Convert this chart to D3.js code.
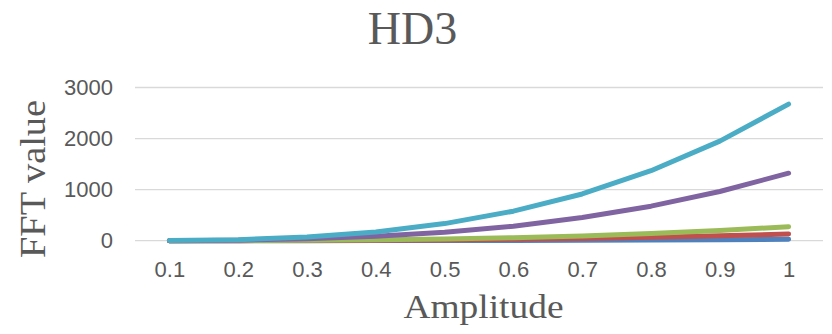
<!DOCTYPE html>
<html>
<head>
<meta charset="utf-8">
<script src="https://cdn.jsdelivr.net/npm/d3@7"></script>
<style>
  body { margin: 0; background: #fff; }
</style>
</head>
<body>
<div id="chart"></div>
<script>
const amplitudes = ["0.1", "0.2", "0.3", "0.4", "0.5", "0.6", "0.7", "0.8", "0.9", "1"];
const yTicks = [0, 1000, 2000, 3000];

// series values
const seriesBlue = [0, 0.2, 0.7, 1.7, 3.4, 6, 9, 14, 20, 27];
const seriesRed = [0.1, 1, 3.5, 8.4, 16, 28, 45, 67, 96, 131];
const seriesGreen = [0.3, 2.2, 7.4, 17.6, 34, 59, 94, 141, 200, 275];
const seriesPurple = [1.3, 11, 36, 85, 165, 285, 453, 676, 963, 1322];
const seriesCyan = [3, 21, 72, 172, 335, 578, 915, 1370, 1950, 2675];

const series = [
    {values: seriesBlue, color: "#4F81BD"},
    {values: seriesRed, color: "#C0504D"},
    {values: seriesGreen, color: "#9BBB59"},
    {values: seriesPurple, color: "#8064A2"},
    {values: seriesCyan, color: "#4BACC6"}
];

const W = 832, H = 334;
const margin = {top: 87.5, right: 9, bottom: 93.3, left: 135};
const width = W - margin.left - margin.right;
const height = H - margin.top - margin.bottom;

const svg = d3.select("#chart")
    .append("svg")
    .attr("width", W)
    .attr("height", H);

const g = svg.append("g")
    .attr("transform", "translate(" + margin.left + "," + margin.top + ")");

const x = d3.scalePoint()
    .domain(amplitudes)
    .range([0, width])
    .padding(0.5);

const y = d3.scaleLinear()
    .domain([0, 3000])
    .range([height, 0]);

// gridlines
g.append("g")
    .selectAll("line")
    .data(yTicks)
    .join("line")
    .attr("x1", 0)
    .attr("x2", width)
    .attr("y1", d => y(d))
    .attr("y2", d => y(d))
    .attr("stroke", "#d9d9d9")
    .attr("stroke-width", 1.3);

// Y as
const yAxis = g.append("g")
    .call(d3.axisLeft(y).tickValues(yTicks).tickFormat(d3.format("d")).tickSize(0).tickPadding(22));
yAxis.select(".domain").remove();
yAxis.selectAll("text")
    .attr("font-family", "Liberation Sans, Arial, sans-serif")
    .attr("font-size", 22)
    .attr("fill", "#595959");

// X as
const xAxis = g.append("g")
    .attr("transform", "translate(0," + height + ")")
    .call(d3.axisBottom(x).tickSize(0).tickPadding(21));
xAxis.select(".domain").remove();
xAxis.selectAll("text")
    .attr("font-family", "Liberation Sans, Arial, sans-serif")
    .attr("font-size", 22)
    .attr("fill", "#595959");

const line = d3.line()
    .x((d, i) => x(amplitudes[i]))
    .y(d => y(d));

g.selectAll(".series")
    .data(series)
    .join("path")
    .attr("class", "series")
    .attr("fill", "none")
    .attr("stroke", d => d.color)
    .attr("stroke-width", 5)
    .attr("stroke-linecap", "round")
    .attr("stroke-linejoin", "round")
    .attr("d", d => line(d.values));

// titels
svg.append("text")
    .attr("x", 412.5)
    .attr("y", 43.5)
    .attr("text-anchor", "middle")
    .attr("font-family", "Liberation Serif, Times New Roman, serif")
    .attr("font-size", 46)
    .attr("fill", "#595959")
    .text("HD3");

svg.append("text")
    .attr("transform", "translate(45,179) rotate(-90)")
    .attr("text-anchor", "middle")
    .attr("font-family", "Liberation Serif, Times New Roman, serif")
    .attr("font-size", 36)
    .attr("fill", "#595959")
    .attr("textLength", 158)
    .attr("lengthAdjust", "spacingAndGlyphs")
    .text("FFT value");

svg.append("text")
    .attr("x", 483.5)
    .attr("y", 318)
    .attr("text-anchor", "middle")
    .attr("font-family", "Liberation Serif, Times New Roman, serif")
    .attr("font-size", 34)
    .attr("fill", "#595959")
    .attr("textLength", 160)
    .attr("lengthAdjust", "spacingAndGlyphs")
    .text("Amplitude");
</script>
</body>
</html>
